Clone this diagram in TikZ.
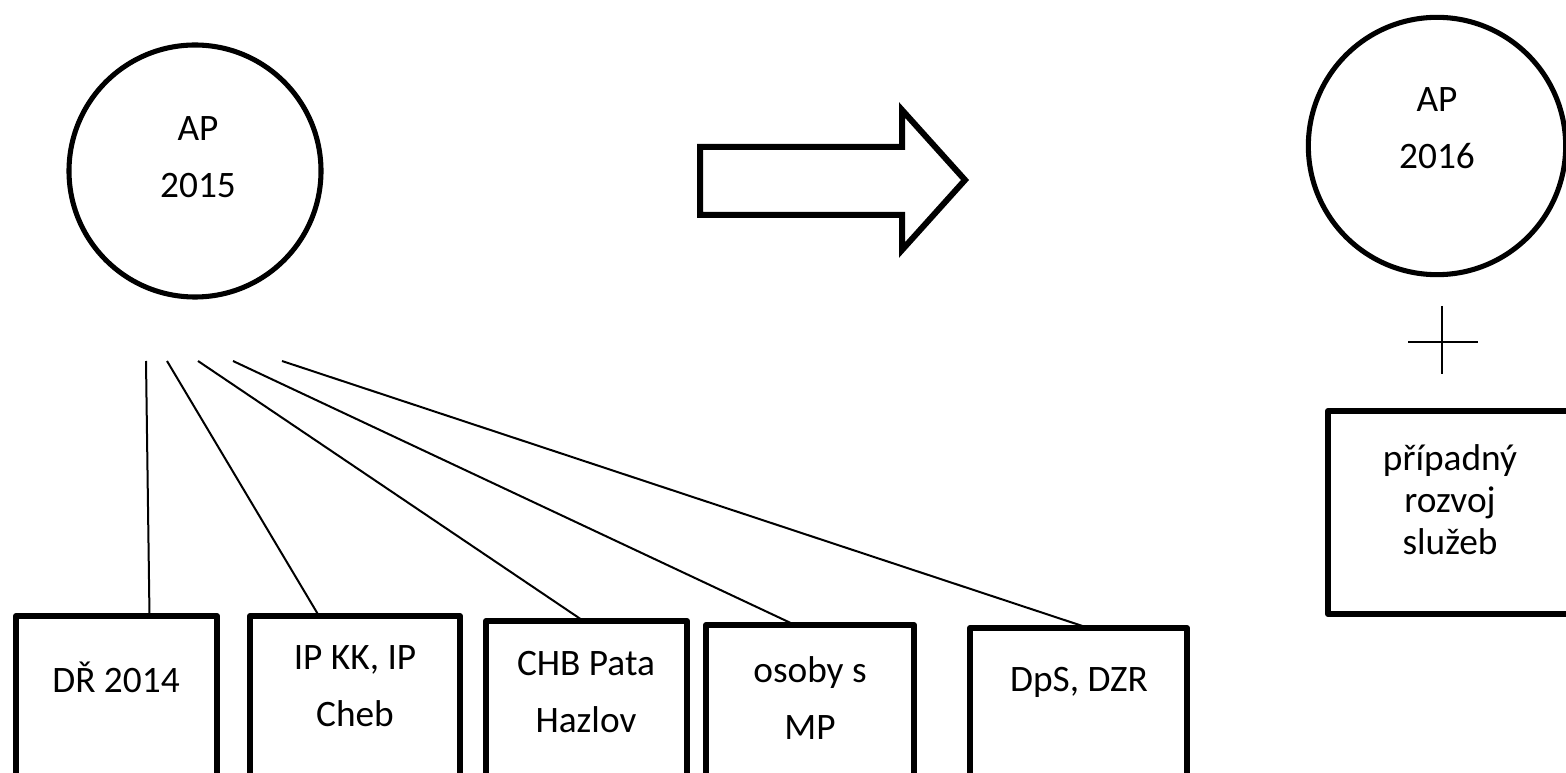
\documentclass[tikz,border=0pt]{standalone}
\usepackage{fontspec}
\setmainfont{Carlito}
\begin{document}
\begin{tikzpicture}[x=0.75pt,y=-0.75pt,
  ring/.style={draw, circle, line width=3.8pt, inner sep=0pt, outer sep=0pt},
  box/.style={draw, rectangle, line width=4.5pt, line join=round, inner sep=0pt, outer sep=0pt, anchor=north west},
  lbl/.style={align=center, font=\fontsize{28}{42.75}\selectfont, inner sep=0pt},
  link/.style={line width=1.5pt},
  bigarrow/.style={draw, line width=4.5pt, line join=miter}
]
\useasboundingbox[fill=white] (0,0) rectangle (1566,773);

% circles
\node[ring, minimum size=189pt] (c1) at (195,171) {};
\node[lbl] (t1) at (198,157) {AP\\2015};
\node[ring, minimum size=193pt] (c2) at (1437,146) {};
\node[lbl] (t2) at (1437,128) {AP\\2016};

% boxes
\node[box, minimum width=150.75pt, minimum height=138pt] (b1) at (16,616) {};
\node[box, minimum width=157.5pt, minimum height=138pt] (b2) at (250,616) {};
\node[box, minimum width=150.75pt, minimum height=138pt] (b3) at (486,621) {};
\node[box, minimum width=156pt, minimum height=138pt] (b4) at (706,625) {};
\node[box, minimum width=162.75pt, minimum height=138pt] (b5) at (970,628) {};
\node[box, minimum width=181.5pt, minimum height=152.25pt] (b6) at (1328,411) {};

\node[lbl] (l1) at (116,677) {DŘ 2014};
\node[lbl] (l2) at (355,686) {IP KK, IP\\Cheb};
\node[lbl] (l3) at (586,692) {CHB Pata\\Hazlov};
\node[lbl] (l4) at (810,698) {osoby s\\MP};
\node[lbl] (l5) at (1079,682) {DpS, DZR};
\node[lbl, font=\fontsize{28}{31.5}\selectfont] (l6) at (1450,500) {případný\\rozvoj\\služeb};

% connector free ends
\coordinate (s1) at (146,361);
\coordinate (s2) at (167,361);
\coordinate (s3) at (198,361);
\coordinate (s4) at (233,361);
\coordinate (s5) at (282,361);

\draw[link] (s1) -- ([xshift=24.75pt]b1.north);
\draw[link] (s2) -- ([xshift=-27pt]b2.north);
\draw[link] (s3) -- ([xshift=-2.25pt]b3.north);
\draw[link] (s4) -- ([xshift=-11.25pt]b4.north);
\draw[link] (s5) -- ([xshift=7.5pt]b5.north);

% plus sign
\draw[link] (1442,306) -- (1442,374);
\draw[link] (1408,342) -- (1478,342);

% block arrow
\draw[bigarrow] (700,147) -- (902,147) -- (902,110) -- (965,180) -- (902,250) -- (902,215) -- (700,215) -- cycle;
\end{tikzpicture}
\end{document}
